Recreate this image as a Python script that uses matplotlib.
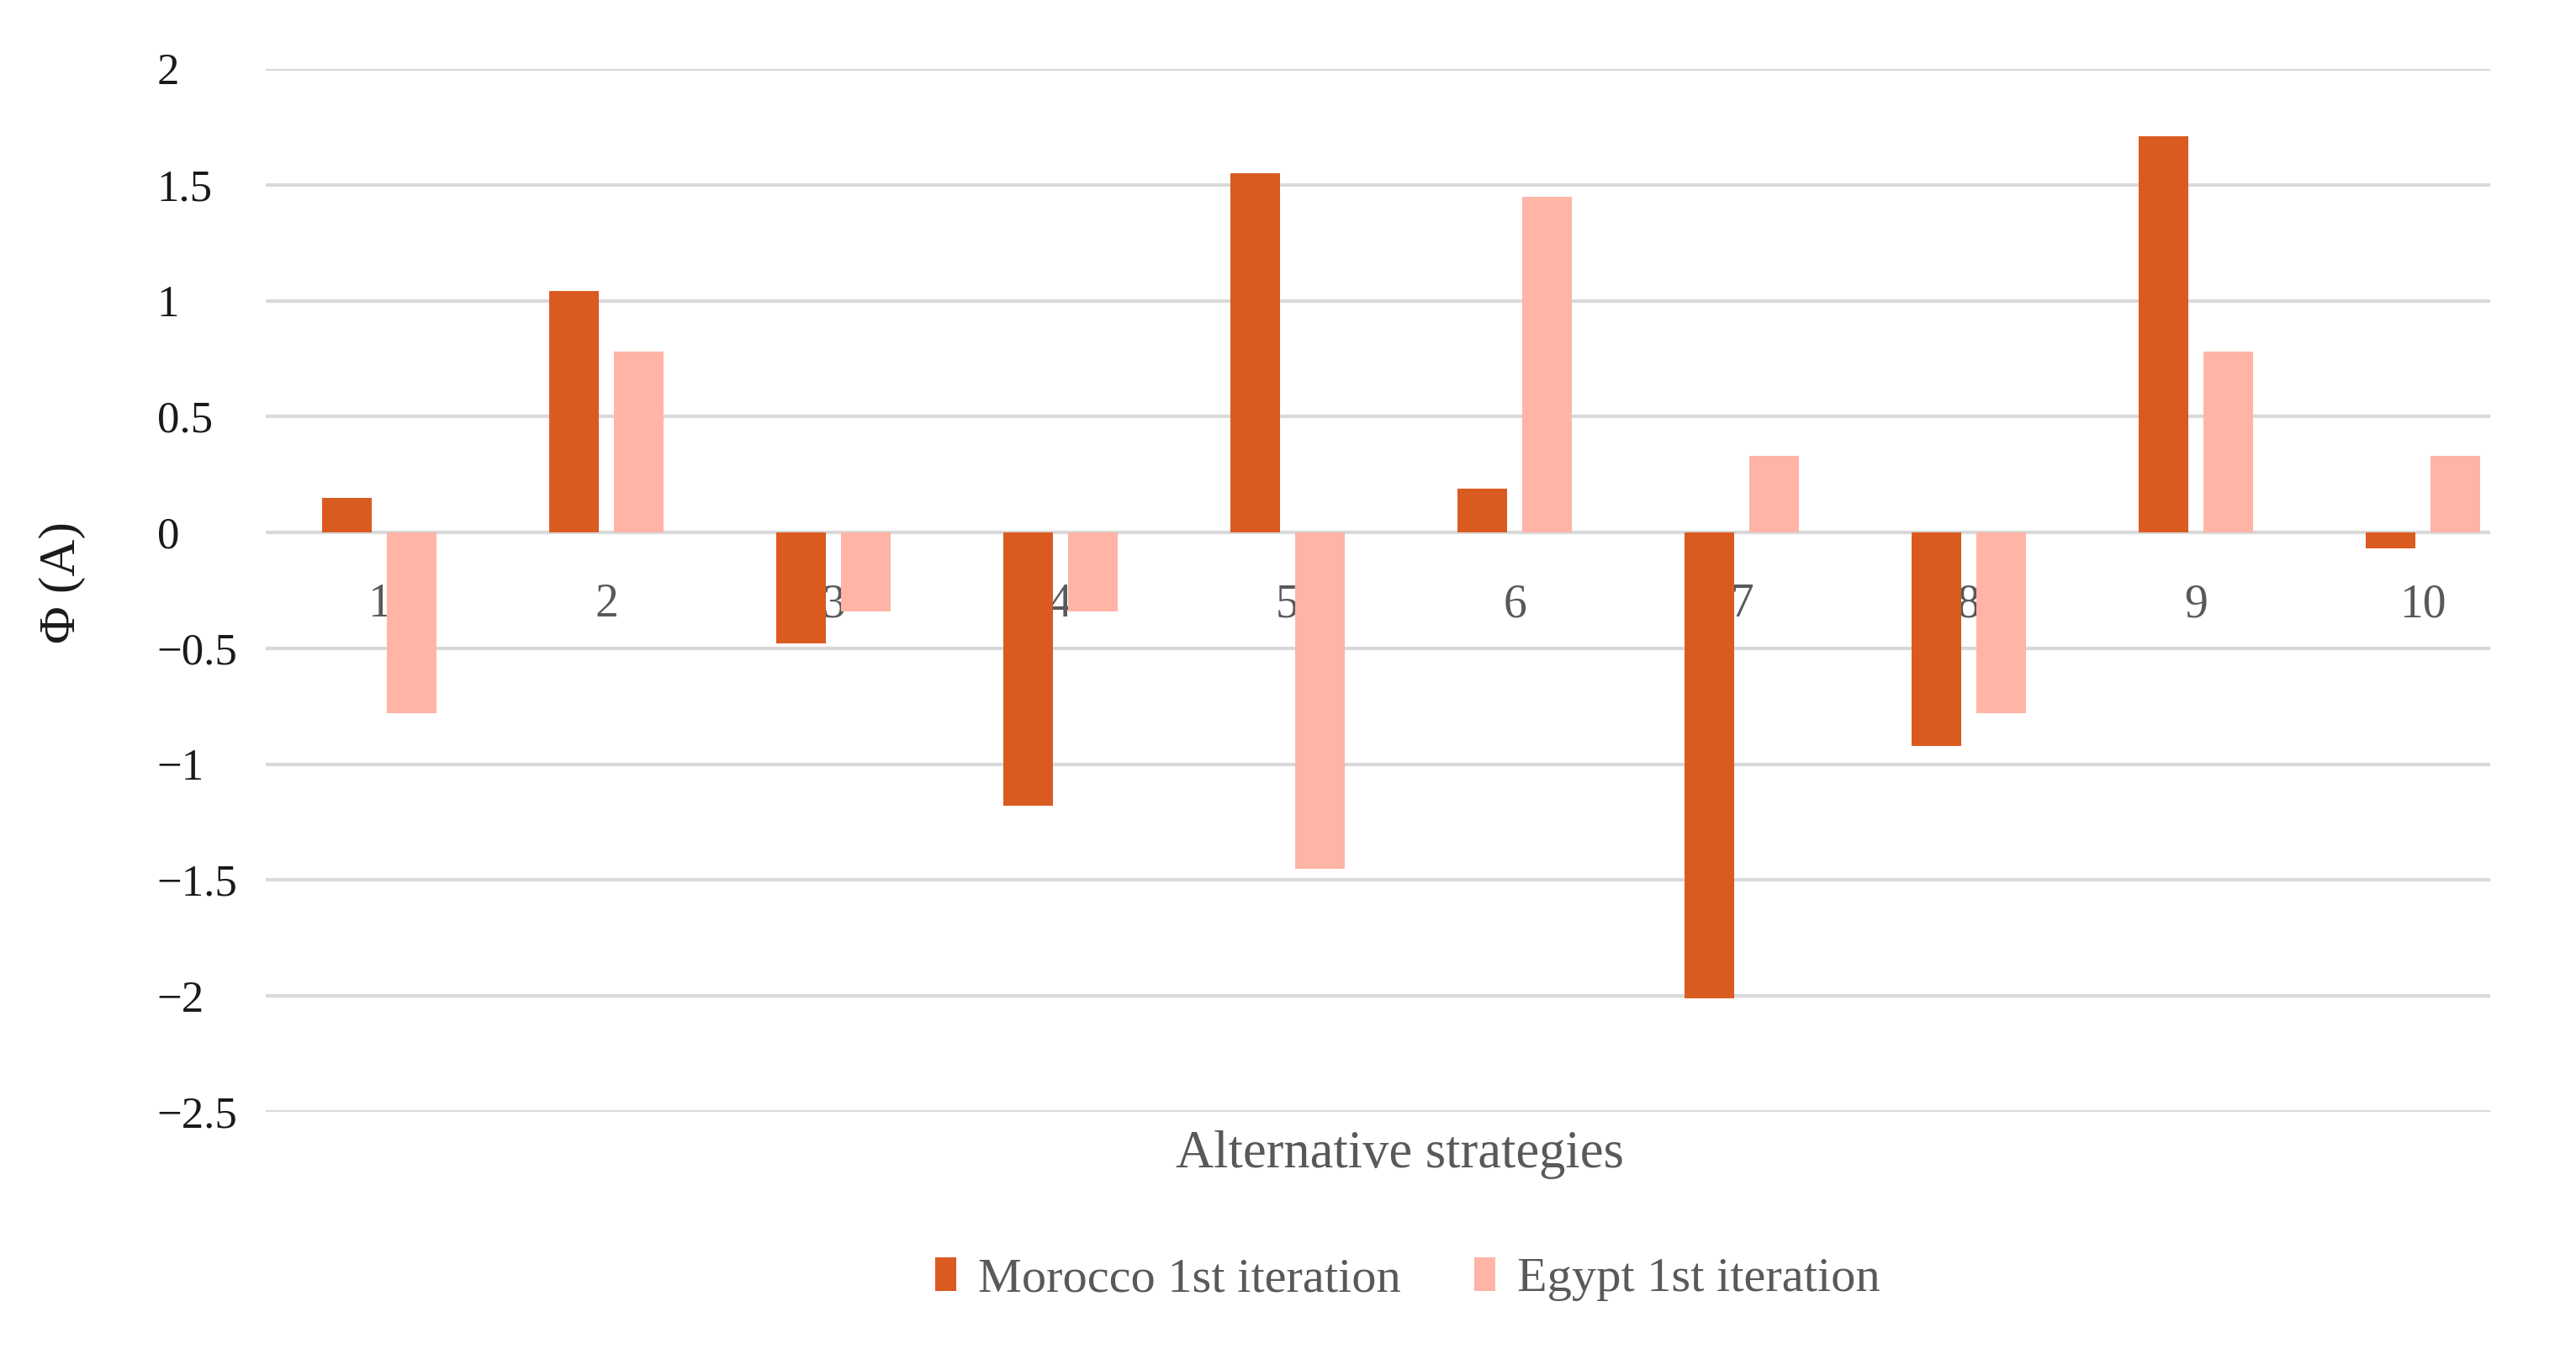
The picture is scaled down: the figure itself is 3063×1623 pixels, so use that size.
import matplotlib
matplotlib.use("Agg")
import matplotlib.pyplot as plt
import numpy as np

# values
strategies = ["1", "2", "3", "4", "5", "6", "7", "8", "9", "10"]
morocco = [0.15, 1.04, -0.48, -1.18, 1.55, 0.19, -2.01, -0.92, 1.71, -0.07]
egypt = [-0.78, 0.78, -0.34, -0.34, -1.45, 1.45, 0.33, -0.78, 0.78, 0.33]
series_names = ["Morocco 1st iteration", "Egypt 1st iteration"]
yticks = [2, 1.5, 1, 0.5, 0, -0.5, -1, -1.5, -2, -2.5]

ORANGE, SALMON = "#DA5B1F", "#FFB4A5"
GRID, TXT = "#D9D9D9", "#595959"
FONT = "Liberation Serif"
plt.rcParams["font.family"] = [FONT, "DejaVu Serif"]

fig = plt.figure(figsize=(30.63, 16.23), dpi=100)
# plot area runs a bit past where the gridlines stop (as in the original)
ax = fig.add_axes([316 / 3063, 0.1855, (3016 - 316) / 3063, 0.764])

x = np.arange(1, len(strategies) + 1)
bw, off = 0.22, 0.143
ax.bar(x - off, morocco, bw, color=ORANGE, label=series_names[0], zorder=3)
ax.bar(x + off, egypt, bw, color=SALMON, label=series_names[1], zorder=3)

ax.set_xlim(0.5, len(strategies) + 0.5)
ax.set_ylim(-2.5, 2)
ax.set_yticks(yticks)
ax.set_yticklabels([f"{t:g}".replace("-", "\u2212") for t in yticks])
grid_end = (2959 - 316) / (3016 - 316)
for t in yticks:
    ax.axhline(t, xmin=0, xmax=grid_end, color=GRID, lw=3, zorder=0)
ax.set_xticks([])
for s in ax.spines.values():
    s.set_visible(False)
ax.tick_params(axis="y", length=0, pad=93, labelsize=38, labelcolor="#1a1a1a")
for lbl in ax.get_yticklabels():
    lbl.set_ha("left")

# category labels sit just under the zero line, behind the bars
for xi, s in zip(x, strategies):
    ax.annotate(s, (xi, 0), xytext=(0, -62), textcoords="offset points",
                ha="center", va="center", fontsize=40, color=TXT, zorder=1)

fig.text(1664 / 3063, 1 - 1373 / 1623, "Alternative strategies",
         ha="center", va="center", fontsize=45, color=TXT)
fig.text(74 / 3063, 1 - 693 / 1623, "\u03a6 (A)", rotation=90,
         ha="center", va="center", fontsize=44, color="#1a1a1a")

fig.legend(loc="center", bbox_to_anchor=(1674 / 3063, 1 - 1521 / 1623),
           ncol=2, frameon=False, fontsize=42, handlelength=0.42,
           handleheight=0.7, handletextpad=0.45, columnspacing=1.5,
           labelcolor=TXT)

fig.savefig("out.png", dpi=100, facecolor="white")
